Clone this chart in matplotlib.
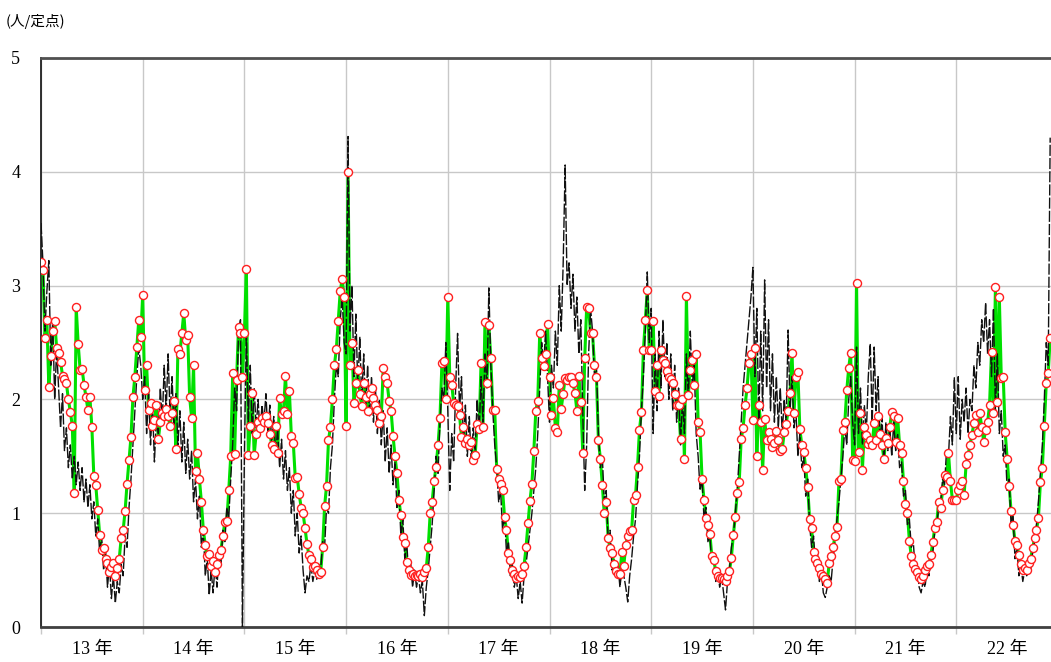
import numpy as np
import matplotlib
matplotlib.use("Agg")
import matplotlib.pyplot as plt
from matplotlib.ticker import FixedLocator, NullFormatter, FixedFormatter

# year labels (x axis)
years = ["13 年", "14 年", "15 年", "16 年", "17 年",
         "18 年", "19 年", "20 年", "21 年", "22 年"]

# weekly values, green line with red circles (人/定点)
g13 = [3.21, 3.14, 2.54, 2.70, 2.11, 2.38, 2.60, 2.69, 2.45, 2.41, 2.33, 2.21, 2.18,
       2.14, 2.00, 1.89, 1.77, 1.18, 2.81, 2.49, 2.26, 2.27, 2.13, 2.02, 1.91, 2.02,
       1.76, 1.33, 1.25, 1.03, 0.81, 0.68, 0.69, 0.60, 0.56, 0.48, 0.53, 0.56, 0.45,
       0.52, 0.60, 0.78, 0.85, 1.02, 1.26, 1.47, 1.67, 2.02, 2.20, 2.46, 2.70, 2.55]
g14 = [2.92, 2.08, 2.30, 1.91, 1.97, 1.77, 1.82, 1.95, 1.65, 1.80, 1.88, 1.85, 1.92,
       1.85, 1.77, 1.88, 1.99, 1.56, 2.44, 2.40, 2.58, 2.76, 2.52, 2.57, 2.02, 1.84,
       2.30, 1.37, 1.53, 1.30, 1.10, 0.85, 0.72, 0.62, 0.64, 0.54, 0.58, 0.48, 0.55,
       0.63, 0.68, 0.80, 0.92, 0.93, 1.20, 1.50, 2.23, 1.52, 2.17, 2.64, 2.58, 2.20]
g15 = [2.58, 3.15, 1.51, 1.77, 2.06, 1.51, 1.70, 1.80, 1.75, 1.84, 1.80, 1.85, 1.79,
       1.70, 1.60, 1.56, 1.77, 1.53, 2.01, 1.87, 1.90, 2.21, 1.87, 2.07, 1.68, 1.62,
       1.31, 1.32, 1.17, 1.05, 1.00, 0.87, 0.73, 0.63, 0.60, 0.53, 0.54, 0.50, 0.47,
       0.48, 0.70, 1.06, 1.24, 1.64, 1.76, 2.00, 2.30, 2.44, 2.69, 2.95, 3.06, 2.90]
g16 = [1.77, 4.00, 2.30, 2.50, 1.97, 2.14, 2.26, 2.05, 1.94, 2.14, 2.02, 1.90, 2.05,
       2.10, 2.01, 1.95, 1.91, 1.79, 1.85, 2.28, 2.20, 2.14, 1.99, 1.90, 1.68, 1.50,
       1.35, 1.12, 0.98, 0.79, 0.74, 0.57, 0.50, 0.46, 0.47, 0.45, 0.46, 0.45, 0.47,
       0.44, 0.48, 0.52, 0.70, 1.00, 1.10, 1.28, 1.41, 1.60, 1.84, 2.32, 2.34, 2.00]
g17 = [2.90, 2.20, 2.13, 1.97, 1.95, 1.94, 1.86, 1.67, 1.76, 1.62, 1.65, 1.60, 1.63,
       1.47, 1.51, 1.78, 1.74, 2.32, 1.76, 2.68, 2.14, 2.65, 2.36, 1.91, 1.91, 1.39,
       1.30, 1.26, 1.20, 0.97, 0.85, 0.65, 0.59, 0.50, 0.47, 0.43, 0.45, 0.44, 0.47,
       0.54, 0.70, 0.91, 1.11, 1.26, 1.55, 1.90, 1.99, 2.58, 2.36, 2.29, 2.40, 2.66]
g18 = [2.20, 1.86, 2.01, 1.75, 1.71, 2.13, 1.92, 2.05, 2.19, 2.17, 2.20, 2.20, 2.14,
       2.06, 1.90, 2.21, 1.98, 1.53, 2.36, 2.81, 2.80, 2.58, 2.58, 2.30, 2.20, 1.64,
       1.48, 1.25, 1.00, 1.10, 0.78, 0.69, 0.65, 0.55, 0.49, 0.47, 0.47, 0.66, 0.54,
       0.72, 0.80, 0.84, 0.85, 1.12, 1.16, 1.41, 1.73, 1.89, 2.43, 2.70, 2.96, 2.43]
g19 = [2.43, 2.69, 2.07, 2.30, 2.03, 2.43, 2.35, 2.32, 2.25, 2.20, 2.18, 2.14, 2.05,
       1.95, 1.95, 1.65, 2.00, 1.48, 2.91, 2.04, 2.26, 2.35, 2.13, 2.40, 1.80, 1.71,
       1.30, 1.12, 0.96, 0.90, 0.82, 0.62, 0.59, 0.49, 0.45, 0.43, 0.43, 0.42, 0.40,
       0.45, 0.49, 0.61, 0.81, 0.97, 1.18, 1.27, 1.65, 1.75, 1.95, 2.10, 2.32, 2.40]
g20 = [1.82, 2.45, 1.50, 1.95, 1.80, 1.38, 1.83, 1.64, 1.71, 1.65, 1.58, 1.62, 1.72,
       1.64, 1.55, 1.56, 1.71, 1.78, 1.90, 2.06, 2.41, 1.88, 2.20, 2.24, 1.74, 1.60,
       1.54, 1.40, 1.23, 0.95, 0.87, 0.66, 0.60, 0.56, 0.52, 0.47, 0.45, 0.42, 0.39,
       0.56, 0.62, 0.70, 0.80, 0.88, 1.28, 1.30, 1.73, 1.80, 2.08, 2.28, 2.41, 1.47]
g21 = [1.46, 3.02, 1.54, 1.88, 1.38, 1.76, 1.69, 1.61, 1.64, 1.60, 1.79, 1.64, 1.85,
       1.70, 1.60, 1.48, 1.66, 1.62, 1.76, 1.89, 1.85, 1.63, 1.84, 1.60, 1.53, 1.28,
       1.08, 1.00, 0.76, 0.62, 0.55, 0.51, 0.48, 0.44, 0.42, 0.45, 0.50, 0.54, 0.55,
       0.63, 0.75, 0.87, 0.92, 1.10, 1.05, 1.20, 1.34, 1.32, 1.53, 1.28, 1.12, 1.12]
g22 = [1.12, 1.20, 1.25, 1.28, 1.16, 1.43, 1.51, 1.60, 1.69, 1.79, 1.86, 1.71, 1.88,
       1.76, 1.63, 1.73, 1.80, 1.95, 2.42, 1.88, 2.99, 1.98, 2.90, 2.19, 2.20, 1.71,
       1.48, 1.24, 1.02, 0.90, 0.76, 0.72, 0.63, 0.55, 0.50, 0.52, 0.50, 0.56, 0.60,
       0.69, 0.78, 0.85, 0.96, 1.27, 1.40, 1.77, 2.14, 2.23, 2.54]

# weekly values, thin black dashed line
b13 = [3.55, 3.20, 2.60, 2.95, 3.22, 2.30, 2.70, 2.00, 2.45, 2.10, 1.75, 2.05, 1.55,
       1.75, 1.40, 1.60, 1.30, 1.50, 1.25, 1.45, 1.20, 1.40, 1.10, 1.30, 1.05, 1.25,
       0.95, 1.10, 0.80, 0.95, 0.65, 0.80, 0.50, 0.65, 0.35, 0.55, 0.25, 0.45, 0.21,
       0.40, 0.30, 0.55, 0.45, 0.80, 0.70, 1.05, 1.30, 1.60, 1.90, 2.20, 2.45, 2.30]
b14 = [2.00, 2.20, 1.70, 2.05, 1.60, 1.95, 1.45, 1.85, 1.70, 2.10, 1.80, 2.30, 1.90,
       2.40, 1.85, 2.20, 1.75, 2.05, 1.60, 1.90, 1.45, 1.80, 1.35, 1.65, 1.30, 1.55,
       1.10, 1.30, 0.95, 1.15, 0.70, 0.85, 0.45, 0.60, 0.28, 0.50, 0.30, 0.55, 0.35,
       0.65, 0.55, 0.85, 0.75, 1.05, 0.95, 1.30, 1.60, 2.10, 1.90, 2.60, 2.70, 0.00]
b15 = [1.50, 2.60, 1.80, 2.30, 1.70, 2.10, 1.75, 2.00, 1.70, 1.95, 1.80, 2.05, 1.70,
       1.95, 1.60, 1.85, 1.50, 1.75, 1.40, 1.65, 1.30, 1.55, 1.20, 1.40, 1.00, 1.20,
       0.80, 1.00, 0.65, 0.80, 0.50, 0.30, 0.45, 0.40, 0.55, 0.40, 0.50, 0.42, 0.55,
       0.50, 0.75, 0.70, 1.05, 1.00, 1.40, 1.60, 2.00, 2.30, 2.20, 2.70, 2.90, 2.50]
b16 = [2.40, 4.31, 2.60, 3.00, 2.20, 2.75, 2.10, 2.55, 2.00, 2.40, 1.90, 2.30, 1.85,
       2.20, 1.80, 2.10, 1.70, 2.00, 1.60, 1.90, 1.45, 1.75, 1.35, 1.60, 1.25, 1.45,
       1.05, 1.20, 0.80, 0.95, 0.60, 0.75, 0.45, 0.55, 0.35, 0.50, 0.35, 0.45, 0.30,
       0.40, 0.10, 0.35, 0.50, 0.70, 0.90, 1.20, 1.50, 1.35, 1.80, 2.10, 2.00, 2.50]
b17 = [1.90, 1.20, 1.70, 1.45, 2.10, 2.58, 1.90, 2.20, 1.60, 1.95, 1.50, 1.85, 1.45,
       1.75, 1.55, 2.00, 1.70, 2.20, 1.80, 2.40, 2.10, 2.98, 2.30, 1.90, 1.60, 1.40,
       1.10, 1.20, 0.85, 1.00, 0.65, 0.75, 0.45, 0.55, 0.35, 0.45, 0.25, 0.40, 0.21,
       0.45, 0.55, 0.70, 0.85, 1.00, 1.20, 1.40, 1.70, 2.10, 2.50, 2.30, 2.60, 2.20]
b18 = [1.80, 2.30, 2.10, 2.60, 2.30, 3.00, 2.60, 3.20, 4.06, 3.00, 3.20, 2.80, 3.10,
       2.60, 2.90, 2.40, 2.70, 1.90, 1.20, 1.60, 2.40, 2.80, 2.60, 2.20, 2.30, 1.70,
       1.40, 1.50, 1.10, 1.20, 0.75, 0.85, 0.50, 0.60, 0.45, 0.55, 0.35, 0.50, 0.45,
       0.35, 0.22, 0.45, 0.60, 0.80, 0.95, 1.25, 1.50, 1.90, 2.20, 2.60, 3.12, 2.50]
b19 = [2.80, 1.70, 2.40, 1.90, 2.60, 2.10, 2.70, 2.20, 2.50, 2.00, 2.40, 1.90, 2.30,
       1.80, 2.10, 1.60, 2.00, 1.70, 2.40, 2.00, 2.60, 2.10, 2.30, 1.70, 1.50, 1.20,
       1.30, 0.95, 1.05, 0.75, 0.80, 0.55, 0.60, 0.40, 0.50, 0.35, 0.45, 0.30, 0.15,
       0.40, 0.50, 0.70, 0.80, 1.00, 1.20, 1.50, 1.80, 2.10, 2.30, 2.50, 2.70, 2.90]
b20 = [3.16, 2.20, 2.80, 1.80, 2.60, 1.90, 3.05, 2.10, 2.70, 1.90, 2.40, 1.80, 2.20,
       1.75, 2.10, 1.70, 2.00, 1.80, 2.61, 1.90, 2.20, 1.75, 1.90, 1.50, 1.70, 1.40,
       1.50, 1.15, 1.30, 0.90, 0.70, 0.80, 0.55, 0.65, 0.40, 0.50, 0.30, 0.26, 0.35,
       0.45, 0.40, 0.60, 0.75, 0.95, 1.10, 1.30, 1.50, 1.75, 1.60, 2.00, 2.20, 1.80]
b21 = [1.60, 2.46, 1.70, 2.10, 1.60, 1.95, 1.70, 2.20, 2.49, 1.80, 2.46, 1.90, 2.20,
       1.60, 1.85, 1.45, 1.80, 1.55, 1.75, 1.50, 1.80, 1.55, 1.70, 1.40, 1.45, 1.15,
       1.20, 0.90, 0.95, 0.70, 0.75, 0.50, 0.55, 0.35, 0.30, 0.40, 0.35, 0.50, 0.45,
       0.60, 0.65, 0.85, 0.90, 1.05, 1.10, 1.30, 1.25, 1.55, 1.50, 1.85, 1.60, 2.19]
b22 = [1.70, 2.20, 1.65, 2.00, 1.80, 2.10, 1.70, 2.00, 1.90, 2.30, 2.10, 2.50, 2.30,
       2.70, 2.50, 2.85, 2.40, 2.70, 2.20, 2.80, 1.90, 2.40, 1.70, 1.90, 1.50, 1.60,
       1.20, 1.30, 0.90, 1.00, 0.60, 0.70, 0.45, 0.55, 0.40, 0.50, 0.45, 0.55, 0.50,
       0.65, 0.75, 0.90, 1.10, 1.35, 1.60, 2.00, 2.50, 2.30, 4.30]

green = [g13, g14, g15, g16, g17, g18, g19, g20, g21, g22]
black = [b13, b14, b15, b16, b17, b18, b19, b20, b21, b22]


def weekly_x(series_by_year):
    xs, ys = [], []
    for i, vals in enumerate(series_by_year):
        xs.extend(i + np.arange(len(vals)) / 52.0)
        ys.extend(vals)
    return np.array(xs), np.array(ys)


gx, gy = weekly_x(green)
bx, by = weekly_x(black)

fig = plt.figure(figsize=(10.51, 6.62), dpi=100)
ax = fig.add_axes([41 / 1051, 35 / 662, 1010 / 1051, 569 / 662])

ax.plot(gx, gy, color="#00e000", lw=2.2, zorder=3, solid_joinstyle="round")
ax.plot(bx, by, color="#111111", lw=1.0, ls=(0, (8, 1.5)), zorder=4)
ax.plot(gx, gy, ls="none", marker="o", ms=5.8, mfc="white", mec="#ff2020",
        mew=1.0, zorder=5)

ax.set_xlim(0, 1010 / 101.7)
ax.set_ylim(0, 5)

# year boundaries get gridlines + small ticks, labels sit between them
ax.xaxis.set_major_locator(FixedLocator(np.arange(0, 10)))
ax.xaxis.set_major_formatter(NullFormatter())
ax.xaxis.set_minor_locator(FixedLocator(np.arange(len(years)) + 0.5))
ax.xaxis.set_minor_formatter(FixedFormatter(years))
ax.tick_params(axis="x", which="major", length=5, width=1, color="#c8c8c8",
               direction="out")
ax.tick_params(axis="x", which="minor", length=0, pad=10, labelsize=13)
ax.set_yticks([0, 1, 2, 3, 4, 5])
ax.tick_params(axis="y", length=0, pad=15, labelsize=13)

for lab in ax.get_xticklabels(minor=True):
    lab.set_family(["Liberation Serif", "Noto Sans CJK JP"])
for lab in ax.get_yticklabels():
    lab.set_family(["Liberation Serif"])

ax.grid(True, which="major", color="#c8c8c8", lw=1.0)
ax.set_axisbelow(True)

ax.spines["right"].set_visible(False)
ax.spines["left"].set_color("#202020")
ax.spines["left"].set_linewidth(1.3)
ax.spines["bottom"].set_color("#404040")
ax.spines["bottom"].set_linewidth(2.0)
ax.spines["top"].set_color("#505050")
ax.spines["top"].set_linewidth(2.0)

fig.text(0.005, 0.968, "(人/定点)", fontsize=10.5,
         family=["Noto Sans CJK JP", "DejaVu Sans"], va="center", ha="left")

fig.savefig("out.png", dpi=100)
